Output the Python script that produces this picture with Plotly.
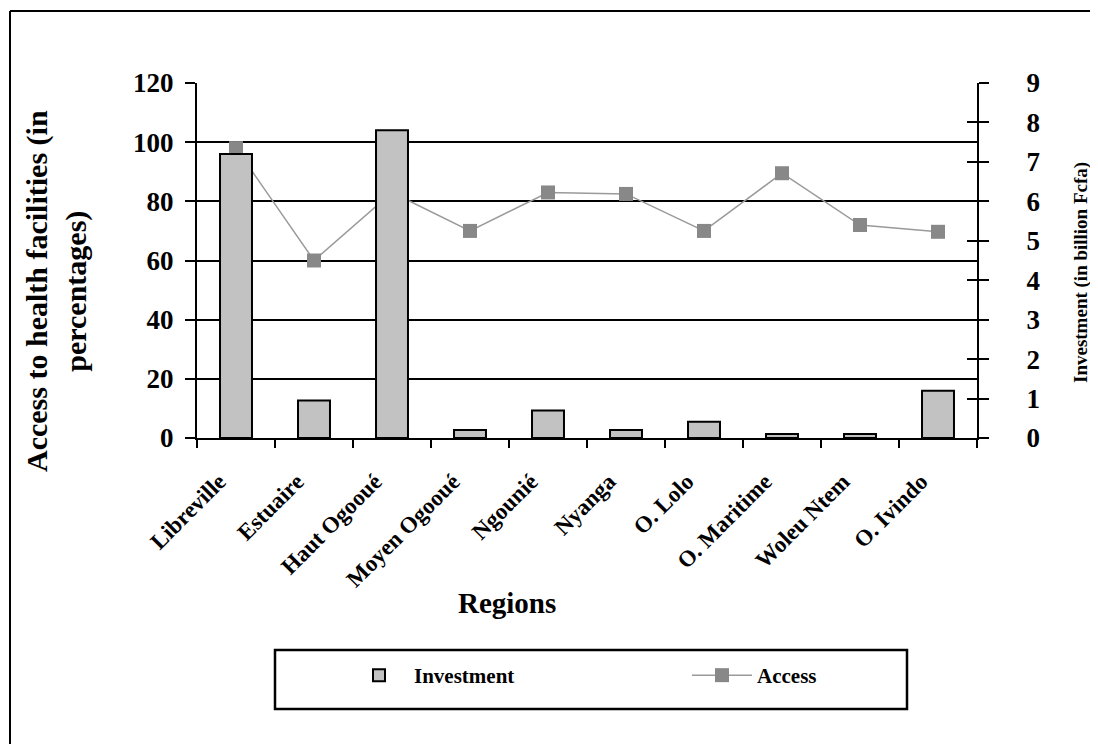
import plotly.graph_objects as go

regions = ["Libreville", "Estuaire", "Haut Ogooué", "Moyen Ogooué", "Ngounié",
           "Nyanga", "O. Lolo", "O. Maritime", "Woleu Ntem", "O. Ivindo"]
investment = [7.2, 0.95, 7.8, 0.2, 0.7, 0.2, 0.41, 0.1, 0.1, 1.2]   # billion Fcfa (right axis)
access = [98, 60, 83, 70, 83, 82.5, 70, 89.5, 72, 69.7]              # percentages (left axis)
left_ticks = [0, 20, 40, 60, 80, 100, 120]
right_ticks = [0, 1, 2, 3, 4, 5, 6, 7, 8, 9]

# page has an 8px body margin; figure sized so that it fits the 1098x752 window
OFF = 8
W, H = 1098 - 2 * OFF, 752 - 2 * OFF
L, R, T, B = 197 - OFF, 977 - OFF, 83 - OFF, 438 - OFF


def px(x):
    return (x - OFF - L) / (R - L)


def py(y):
    return (B - (y - OFF)) / (B - T)


FONT = "Liberation Serif"

fig = go.Figure()
fig.add_trace(go.Bar(
    x=regions, y=investment, name="Investment", yaxis="y2", width=0.41,
    marker=dict(color="#c2c2c2", line=dict(color="black", width=2)),
))
fig.add_trace(go.Scatter(
    x=regions, y=access, name="Access", yaxis="y", mode="lines+markers",
    line=dict(color="#9a9a9a", width=1.5),
    marker=dict(symbol="square", size=14, color="#888888", line=dict(width=0)),
))
# invisible trace for the inside-tick overlay axis
fig.add_trace(go.Scatter(x=regions, y=investment, yaxis="y3", mode="markers",
                         marker=dict(opacity=0), showlegend=False, hoverinfo="skip"))

fig.update_layout(
    width=W, height=H,
    margin=dict(l=L, r=W - R, t=T, b=H - B),
    paper_bgcolor="white", plot_bgcolor="white",
    font=dict(family=FONT, color="black"),
    showlegend=True,
    legend=dict(
        orientation="h", x=px(344), y=py(655), xanchor="left", yanchor="top",
        borderwidth=0, bgcolor="rgba(0,0,0,0)",
        font=dict(family=FONT, size=21, weight=700),
        entrywidth=268, entrywidthmode="pixels",
        itemwidth=60, traceorder="normal",
    ),
    xaxis=dict(
        type="category", range=[-0.5, 9.5], tickson="boundaries", ticks="outside",
        ticklen=8, tickwidth=2, tickcolor="black", showline=True, linecolor="black",
        linewidth=2, tickangle=-45, tickfont=dict(family=FONT, size=23, weight=700),
        showgrid=False, ticklabelstandoff=19, ticklabelshift=-17,
    ),
    yaxis=dict(
        range=[0, 120], tickvals=left_ticks, ticks="outside", ticklen=10, tickwidth=2,
        tickcolor="black", showline=True, linecolor="black", linewidth=2,
        showgrid=True, gridcolor="black", gridwidth=2, zeroline=False,
        tickfont=dict(family=FONT, size=27, weight=700), ticklabelstandoff=6,
    ),
    yaxis2=dict(
        range=[0, 9], tickvals=right_ticks, overlaying="y", side="right",
        ticks="outside", ticklen=10, tickwidth=2, tickcolor="black",
        showline=True, linecolor="black", linewidth=2, showgrid=False, zeroline=False,
        tickfont=dict(family=FONT, size=27, weight=700), ticklabelstandoff=32,
    ),
    yaxis3=dict(
        range=[0, 9], tickvals=right_ticks, overlaying="y", side="right",
        ticks="inside", ticklen=10, tickwidth=2, tickcolor="black",
        showline=False, showgrid=False, zeroline=False, showticklabels=False,
    ),
    annotations=[
        dict(text="Access to health facilities (in<br>percentages)", xref="paper", yref="paper",
             x=px(56), y=py(291), textangle=-90, showarrow=False,
             font=dict(family=FONT, size=30, weight=700), xanchor="center", yanchor="middle"),
        dict(text="Regions", xref="paper", yref="paper", x=px(507), y=py(603),
             showarrow=False, font=dict(family=FONT, size=29, weight=700),
             xanchor="center", yanchor="middle"),
        dict(text="Investment (in billion Fcfa)", xref="paper", yref="paper",
             x=px(1081), y=py(273), textangle=-90, showarrow=False,
             font=dict(family=FONT, size=19, weight=700), xanchor="center", yanchor="middle"),
    ],
    shapes=[
        # outer frame (top and left edges visible)
        dict(type="line", xref="paper", yref="paper", x0=px(10), x1=px(1110), y0=py(11), y1=py(11),
             line=dict(color="black", width=2)),
        dict(type="line", xref="paper", yref="paper", x0=px(10), x1=px(10), y0=py(11), y1=py(770),
             line=dict(color="black", width=2)),
        # legend box
        dict(type="rect", xref="paper", yref="paper", x0=px(275), x1=px(907), y0=py(650), y1=py(709),
             line=dict(color="black", width=2.5), fillcolor="rgba(0,0,0,0)"),
    ],
)

fig.write_html("out.html")
